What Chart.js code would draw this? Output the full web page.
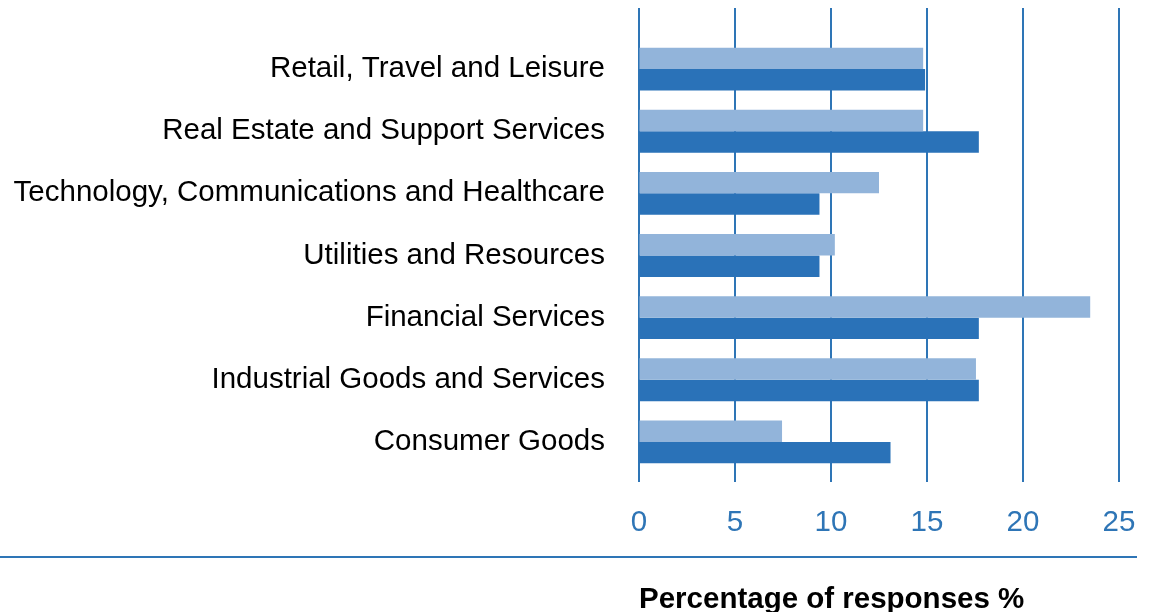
<!DOCTYPE html>
<html>
<head>
<meta charset="utf-8">
<script src="https://cdn.jsdelivr.net/npm/chart.js@4/dist/chart.umd.min.js"></script>
<style>
    html, body { margin: 0; padding: 0; background: #ffffff; }
    #wrap { width: 1156px; height: 612px; position: relative; }
</style>
</head>
<body>
<div id="wrap"><canvas id="sectorChart"></canvas></div>
<script>
    var sectors = [
        "Retail, Travel and Leisure",
        "Real Estate and Support Services",
        "Technology, Communications and Healthcare",
        "Utilities and Resources",
        "Financial Services",
        "Industrial Goods and Services",
        "Consumer Goods"
    ];
    var lightValues = [14.8, 14.8, 12.5, 10.2, 23.5, 17.55, 7.45];
    var darkValues = [14.9, 17.7, 9.4, 9.4, 17.7, 17.7, 13.1];
    var xTicks = [0, 5, 10, 15, 20, 25];

    var blue = '#2e75b6';
    var textFont = { family: 'Liberation Sans', size: 29.5 };

    /**
     * Grid lines run a little past the plot area, plus a rule under the ticks
     */
    var extraLines = {
        id: 'extraLines',
        beforeDatasetsDraw: function (chart) {
            var ctx = chart.ctx;
            var x = chart.scales.x;
            ctx.save();
            ctx.strokeStyle = blue;
            ctx.lineWidth = 2;
            xTicks.forEach(function (v) {
                var px = Math.round(x.getPixelForValue(v));
                ctx.beginPath();
                ctx.moveTo(px, 8);
                ctx.lineTo(px, 482);
                ctx.stroke();
            });
            ctx.beginPath();
            ctx.moveTo(0, 557);
            ctx.lineTo(1137, 557);
            ctx.stroke();
            ctx.restore();
        }
    };

    var barData = {
        labels: sectors,
        datasets: [
            {
                label: "Series 1",
                backgroundColor: '#92b4da',
                data: lightValues
            },
            {
                label: "Series 2",
                backgroundColor: '#2a72b8',
                data: darkValues
            }
        ]
    };

    var barOptions = {
        indexAxis: 'y',
        responsive: false,
        animation: false,
        categoryPercentage: 0.69,
        barPercentage: 1,
        layout: { padding: { top: 38, right: 37, left: 0, bottom: 0 } },
        plugins: { legend: { display: false }, tooltip: { enabled: false } },
        scales: {
            x: {
                min: 0,
                max: 25,
                afterBuildTicks: function (scale) {
                    scale.ticks = xTicks.map(function (v) { return { value: v }; });
                },
                afterFit: function (scale) { scale.height = 139; },
                // tick marks kept invisible, they only space the labels
                grid: { display: true, color: 'rgba(0,0,0,0)', drawOnChartArea: false, drawTicks: true, tickLength: 32 },
                border: { display: false },
                ticks: {
                    color: blue,
                    padding: 0,
                    font: textFont
                },
                title: {
                    display: true,
                    text: 'Percentage of responses %',
                    align: 'start',
                    color: '#000000',
                    padding: { top: 0, bottom: -3 },
                    font: { family: 'Liberation Sans', size: 29.5, weight: 'bold', lineHeight: 1 }
                }
            },
            y: {
                afterFit: function (scale) { scale.width = 639; },
                grid: { display: true, color: 'rgba(0,0,0,0)', drawOnChartArea: false, drawTicks: true, tickLength: 34 },
                border: { display: false },
                ticks: {
                    color: '#000000',
                    padding: 0,
                    font: textFont
                }
            }
        }
    };

    var canvas = document.getElementById("sectorChart");
    canvas.width = 1156;
    canvas.height = 612;
    new Chart(canvas.getContext("2d"), { type: 'bar', data: barData, options: barOptions, plugins: [extraLines] });
</script>
</body>
</html>
